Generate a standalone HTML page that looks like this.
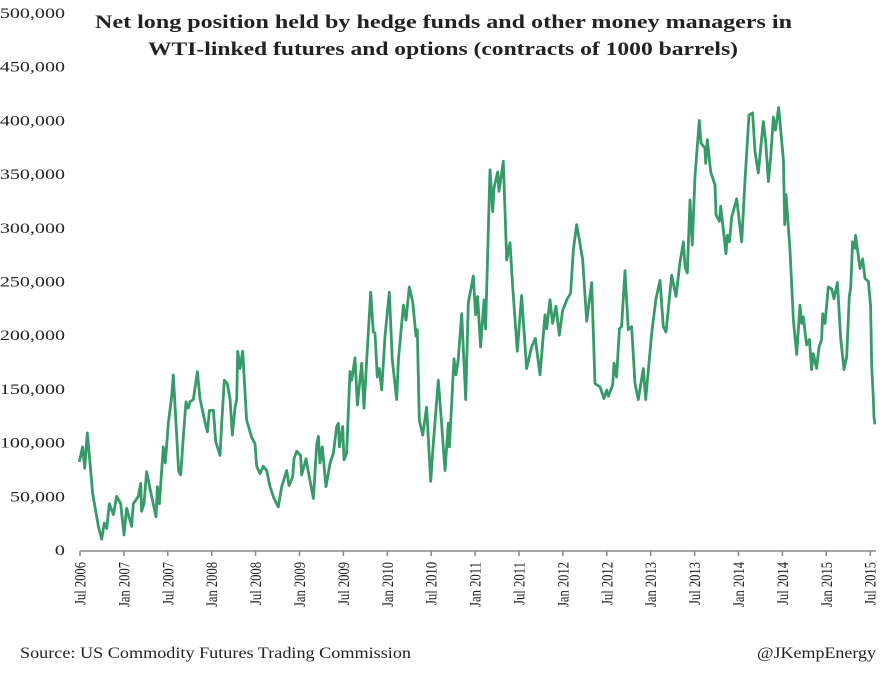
<!DOCTYPE html>
<html><head><meta charset="utf-8"><style>
body{margin:0;background:#fff;}
svg text{font-family:"Liberation Serif",serif;fill:#222;}
</style></head><body>
<svg id="chart" width="889" height="672" xmlns="http://www.w3.org/2000/svg">
<text x="95" y="28" font-size="19" font-weight="bold" textLength="697" lengthAdjust="spacingAndGlyphs">Net long position held by hedge funds and other money managers in</text>
<text x="148" y="55" font-size="19" font-weight="bold" textLength="590" lengthAdjust="spacingAndGlyphs">WTI-linked futures and options (contracts of 1000 barrels)</text>
<g id="yaxis"></g>
<g id="xaxis"></g>
<g id="series"></g>
<text x="20" y="658" font-size="16" textLength="391" lengthAdjust="spacingAndGlyphs">Source: US Commodity Futures Trading Commission</text>
<text x="757" y="658" font-size="16" textLength="119" lengthAdjust="spacingAndGlyphs">@JKempEnergy</text>
</svg>
<script>
const yTicks=[0,50000,100000,150000,200000,250000,300000,350000,400000,450000,500000];
const xTickDates=[2006.5,2007,2007.5,2008,2008.5,2009,2009.5,2010,2010.5,2011,2011.5,2012,2012.5,2013,2013.5,2014,2014.5,2015,2015.5];
const xTickLabels=["Jul 2006","Jan 2007","Jul 2007","Jan 2008","Jul 2008","Jan 2009","Jul 2009","Jan 2010","Jul 2010","Jan 2011","Jul 2011","Jan 2012","Jul 2012","Jan 2013","Jul 2013","Jan 2014","Jul 2014","Jan 2015","Jul 2015"];
const dates=[2006.492,2006.530,2006.553,2006.583,2006.614,2006.644,2006.709,2006.747,2006.777,2006.804,2006.834,2006.880,2006.918,2006.963,2007.001,2007.031,2007.088,2007.107,2007.164,2007.191,2007.202,2007.229,2007.259,2007.305,2007.366,2007.381,2007.404,2007.449,2007.472,2007.506,2007.544,2007.563,2007.593,2007.624,2007.647,2007.677,2007.707,2007.734,2007.753,2007.791,2007.837,2007.867,2007.924,2007.951,2007.974,2008.019,2008.045,2008.095,2008.114,2008.144,2008.178,2008.209,2008.235,2008.266,2008.285,2008.296,2008.322,2008.353,2008.398,2008.455,2008.493,2008.512,2008.550,2008.588,2008.626,2008.664,2008.709,2008.759,2008.797,2008.854,2008.880,2008.922,2008.937,2008.968,2009.013,2009.025,2009.074,2009.112,2009.158,2009.196,2009.215,2009.234,2009.260,2009.302,2009.348,2009.386,2009.424,2009.443,2009.454,2009.492,2009.507,2009.537,
2009.575,2009.594,2009.632,2009.659,2009.708,2009.735,2009.765,2009.811,2009.841,2009.860,2009.886,2009.909,2009.936,2009.974,2010.023,2010.057,2010.107,2010.126,2010.183,2010.213,2010.251,2010.289,2010.327,2010.342,2010.365,2010.403,2010.448,2010.494,2010.524,2010.581,2010.619,2010.657,2010.695,2010.707,2010.760,2010.782,2010.809,2010.847,2010.893,2010.923,2010.980,2011.006,2011.029,2011.063,2011.101,2011.120,2011.170,2011.200,2011.215,2011.257,2011.272,2011.321,2011.360,2011.397,2011.428,2011.481,2011.530,2011.587,2011.644,2011.686,2011.739,2011.796,2011.815,2011.853,2011.883,2011.921,2011.959,2011.997,2012.050,2012.088,2012.119,2012.157,2012.187,2012.225,2012.271,2012.328,2012.366,2012.423,2012.468,2012.499,
2012.518,2012.567,2012.582,2012.612,2012.643,2012.669,2012.707,2012.745,2012.783,2012.821,2012.859,2012.916,2012.943,2013.011,2013.060,2013.106,2013.144,2013.174,2013.239,2013.288,2013.334,2013.372,2013.391,2013.417,2013.448,2013.474,2013.505,2013.554,2013.573,2013.619,2013.626,2013.645,2013.683,2013.732,2013.744,2013.782,2013.797,2013.858,2013.873,2013.896,2013.922,2013.979,2014.036,2014.074,2014.120,2014.161,2014.188,2014.226,2014.283,2014.310,2014.340,2014.367,2014.397,2014.420,2014.458,2014.511,2014.526,2014.541,2014.587,2014.625,2014.663,2014.701,2014.720,2014.738,2014.776,2014.807,2014.833,2014.852,2014.890,2014.917,2014.947,2014.959,2014.985,2015.023,2015.061,2015.088,2015.126,2015.164,2015.202,2015.232,2015.262,2015.278,2015.300,2015.327,2015.334,2015.384,2015.414,2015.441,2015.479,2015.505,2015.517,2015.536,2015.543,2015.552];
const values=[82,96,76,109,81,53,22,10,25,20,43,33,50,43,14,39,22,43,50,62,36,43,73,54,31,59,43,96,81,118,143,163,118,73,70,105,138,132,138,140,166,141,119,110,130,130,101,88,118,158,155,140,107,133,140,185,169,185,121,105,99,78,71,78,74,59,48,40,59,74,60,68,85,92,88,70,85,68,48,98,106,81,96,59,81,90,115,118,96,115,84,90,
166,158,179,135,174,132,177,240,203,202,161,169,149,199,240,177,140,177,228,214,245,231,199,205,121,107,133,64,99,158,118,74,118,96,178,163,178,220,140,230,255,219,236,189,233,206,354,315,337,352,334,362,270,286,245,185,237,169,189,197,163,219,206,233,211,227,200,223,234,239,279,303,289,270,213,249,155,152,141,149,
143,154,174,161,206,208,260,205,208,155,140,169,140,202,234,251,208,203,256,236,268,287,264,258,326,284,348,400,379,374,360,382,352,340,312,306,320,276,293,287,310,327,287,344,405,407,371,351,399,380,343,366,403,391,412,363,303,331,279,214,182,228,211,217,191,196,168,183,169,189,196,220,211,245,243,234,249,197,168,180,236,244,287,281,293,262,271,253,250,227,171,140,124,117];
const L=80,R=876,T=13,B=550,D0=2006.5,PXY=87.8;
const xs=d=>L+(d-D0)*PXY;
const ys=v=>B-(v/500000)*(B-T);
const NS="http://www.w3.org/2000/svg";
const ya=document.getElementById('yaxis');
yTicks.forEach(v=>{const t=document.createElementNS(NS,'text');


const s=v.toLocaleString('en-US');
const w=s.replace(/,/g,'').length*10.2+(s.split(',').length-1)*4;
t.setAttribute('x',65-w);t.setAttribute('y',ys(v)+5);t.setAttribute('font-size','15');
t.setAttribute('textLength',w);t.setAttribute('lengthAdjust','spacingAndGlyphs');
t.textContent=s;ya.appendChild(t);});
const xa=document.getElementById('xaxis');
const ln=document.createElementNS(NS,'line');


ln.setAttribute('x1',L);ln.setAttribute('x2',R);ln.setAttribute('y1',B+1);ln.setAttribute('y2',B+1);ln.setAttribute('stroke','#888');ln.setAttribute('stroke-width','1.5');xa.appendChild(ln);
xTickDates.forEach((d,i)=>{const x=xs(d);
const tk=document.createElementNS(NS,'line');


tk.setAttribute('x1',x);tk.setAttribute('x2',x);tk.setAttribute('y1',B+1);tk.setAttribute('y2',B+6);tk.setAttribute('stroke','#888');tk.setAttribute('stroke-width','1.5');xa.appendChild(tk);
const t=document.createElementNS(NS,'text');


t.setAttribute('transform',`translate(${x+5.5},${B+12}) rotate(-90)`);t.setAttribute('text-anchor','end');t.setAttribute('font-size','16');
t.setAttribute('textLength',xTickLabels[i].startsWith('Jan')?45:43);t.setAttribute('lengthAdjust','spacingAndGlyphs');
t.textContent=xTickLabels[i];xa.appendChild(t);});
const p=document.createElementNS(NS,'path');


p.setAttribute('d',dates.map((d,i)=>(i?'L':'M')+xs(d).toFixed(1)+' '+ys(values[i]*1000).toFixed(1)).join(' '));
p.setAttribute('fill','none');p.setAttribute('stroke','#369b68');p.setAttribute('stroke-width','2.8');p.setAttribute('stroke-linejoin','round');
document.getElementById('series').appendChild(p);
</script>
</body></html>
